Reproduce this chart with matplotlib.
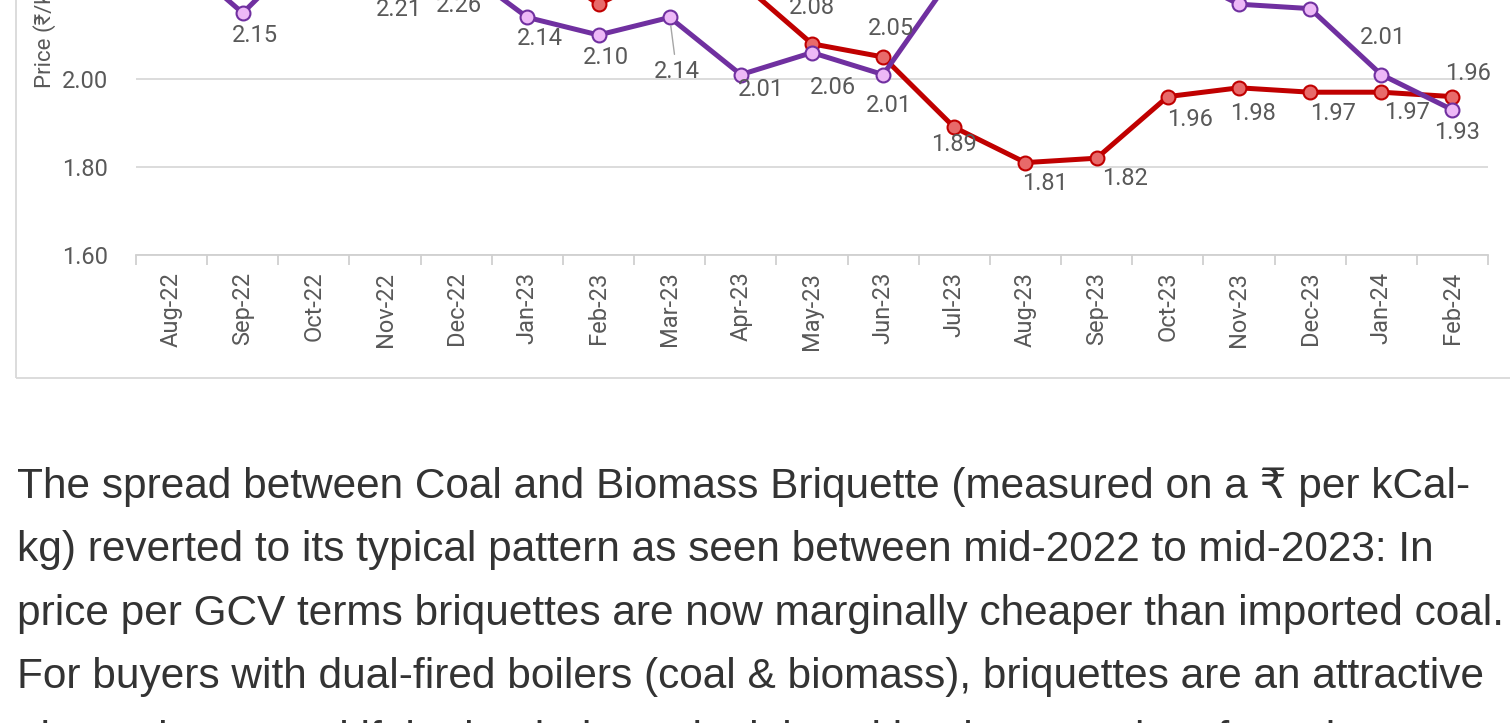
import matplotlib.pyplot as plt
from matplotlib.patches import Rectangle

# data (values above ~2.18 are cut off, estimated)
months = ["Aug-22", "Sep-22", "Oct-22", "Nov-22", "Dec-22", "Jan-23", "Feb-23",
          "Mar-23", "Apr-23", "May-23", "Jun-23", "Jul-23", "Aug-23", "Sep-23",
          "Oct-23", "Nov-23", "Dec-23", "Jan-24", "Feb-24"]
briquette = [2.29, 2.15, 2.31, 2.21, 2.26, 2.14, 2.10, 2.14, 2.01, 2.06, 2.01,
             2.24, 2.30, 2.28, 2.25, 2.17, 2.16, 2.01, 1.93]
coal = [2.50, 2.55, 2.45, 2.40, 2.35, 2.28, 2.17, 2.25, 2.22, 2.08, 2.05,
        1.89, 1.81, 1.82, 1.96, 1.98, 1.97, 1.97, 1.96]

# data label offsets in pixels (dx, dy)
briq_off = [(0, 24), (12, -22), (0, 24), (14, -23), (3, -41), (13, -21), (7, -22),
            (7, -54), (20, -15), (21, -35), (6, -31), (0, 24), (0, 24), (0, 24),
            (0, 24), (0, 24), (0, 24), (2, 37), (5, -23)]
coal_off = [(0, 24), (0, 24), (0, 24), (0, 24), (0, 24), (0, 24), (0, 24),
            (0, 24), (0, 24), (0, 36), (8, 29), (0, -17), (19, -21), (28, -20),
            (22, -23), (14, -26), (23, -21), (26, -20), (16, 23)]

paragraph = [
    "The spread between Coal and Biomass Briquette (measured on a \u20b9 per kCal-",
    "kg) reverted to its typical pattern as seen between mid-2022 to mid-2023: In",
    "price per GCV terms briquettes are now marginally cheaper than imported coal.",
    "For buyers with dual-fired boilers (coal & biomass), briquettes are an attractive",
    "alternative to coal if the landed cost is right, with a lower carbon footprint.",
]

chart_font = ["Roboto", "DejaVu Sans"]
grey = "#595959"
fs = 17

fig = plt.figure(figsize=(15.10, 7.23), dpi=100)
W, H = 1510, 723

# axes: bottom (1.60) at y=255px, 0.20 per 88px
ymin, ymax = 1.60, 2.60
ax_h = (ymax - ymin) / 0.20 * 88
ax = fig.add_axes([136 / W, (H - 255) / H, 1352 / W, ax_h / H])

x = list(range(len(months)))
ax.plot(x, coal, color="#C00000", lw=3.6, marker="o", ms=10,
        mfc="#E86A6A", mec="#C00000", mew=1.5, zorder=3)
ax.plot(x, briquette, color="#7030A0", lw=3.6, marker="o", ms=10,
        mfc="#EDB8F7", mec="#7030A0", mew=1.5, zorder=4)

for i, v in enumerate(briquette):
    dx, dy = briq_off[i]
    kw = {}
    if i == 7:
        kw["arrowprops"] = dict(arrowstyle="-", color="#a6a6a6", lw=1,
                                shrinkA=2, shrinkB=6)
    ax.annotate(f"{v:.2f}", (i, v), xytext=(dx, dy), textcoords="offset pixels",
                ha="center", va="center", fontsize=fs, color=grey,
                family=chart_font, zorder=5, **kw)
for i, v in enumerate(coal):
    dx, dy = coal_off[i]
    ax.annotate(f"{v:.2f}", (i, v), xytext=(dx, dy), textcoords="offset pixels",
                ha="center", va="center", fontsize=fs, color=grey,
                family=chart_font, zorder=5)

ax.set_xlim(-0.5, len(months) - 0.5)
ax.set_ylim(ymin, ymax)
yt = [1.6, 1.8, 2.0, 2.2, 2.4, 2.6]
ax.set_yticks(yt)
ax.set_yticklabels([f"{t:.2f}" for t in yt], family=chart_font, fontsize=fs,
                   color=grey)
ax.tick_params(axis="y", length=0, pad=20)
ax.yaxis.grid(True, color="#d9d9d9", lw=1.3)
ax.set_axisbelow(True)

ax.set_xticks(x)
ax.set_xticklabels(months, rotation=90, family=chart_font, fontsize=fs,
                   color=grey, va="top", ha="center")
ax.set_xticks([i - 0.5 for i in range(len(months) + 1)], minor=True)
ax.tick_params(axis="x", which="major", length=0, pad=12)
ax.tick_params(axis="x", which="minor", length=7, color="#d0d0d0", width=1.3)

for s in ["top", "left", "right"]:
    ax.spines[s].set_visible(False)
ax.spines["bottom"].set_color("#d0d0d0")
ax.spines["bottom"].set_linewidth(1.3)

fig.text(45 / W, 1 - 88 / H, "Price (\u20b9/kCal-kg)", rotation=90,
         ha="center", va="bottom", fontsize=16, color=grey,
         family=chart_font)

# chart frame (cropped at top and right)
fig.patches.append(Rectangle((16 / W, (H - 378) / H), 2, 2, fill=False,
                             edgecolor="#d9d9d9", lw=1.3,
                             transform=fig.transFigure))

for k, line in enumerate(paragraph):
    fig.text(17 / W, 1 - (498 + 63.3 * k) / H, line, va="baseline", ha="left",
             fontsize=30.5, color="#333333",
             family=["Liberation Sans", "DejaVu Sans"])

plt.savefig("out.png", dpi=100)
